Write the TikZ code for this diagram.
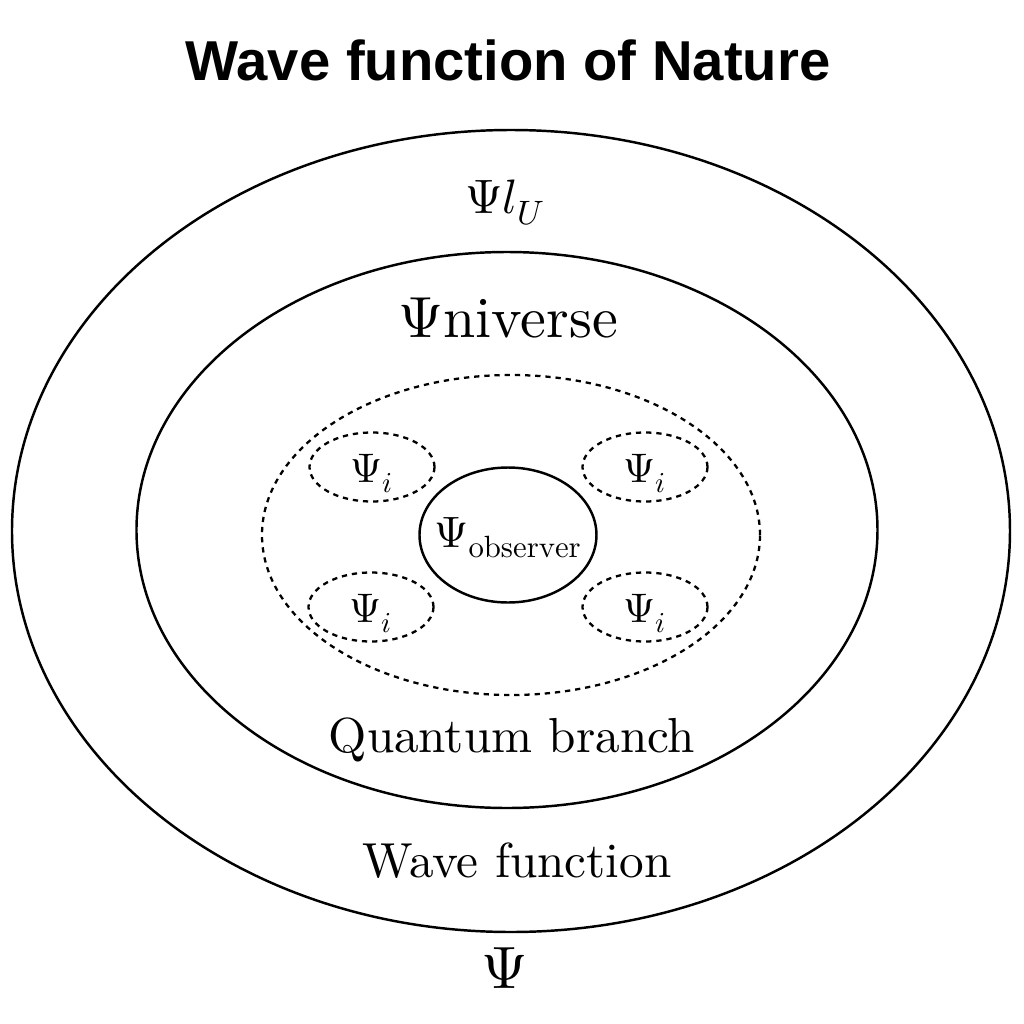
\documentclass[tikz,border=0pt]{standalone}
\usepackage{fontspec}
\usepackage{unicode-math}
\usepackage{tikz}
\usetikzlibrary{shapes.geometric,positioning}
\setmainfont{lmroman10-regular.otf}
\newfontfamily\titlefont{Liberation Sans}

\begin{document}
\begin{tikzpicture}[inner sep=0pt]
  \tikzstyle{ring}=[draw,ellipse,line width=1.4pt]
  \tikzstyle{branch}=[draw,ellipse,line width=1.3pt,dash pattern=on 3pt off 2.8pt]
  \tikzstyle{label}=[anchor=base]
  \useasboundingbox (-10.24,-10.24) rectangle (10.24,10.24);
  % rings
  \node[ring,minimum width=19.96cm,minimum height=16.04cm] (nature) at (-0.02,-0.38) {};
  \node[ring,minimum width=14.82cm,minimum height=11.12cm] (universe) at (-0.10,-0.36) {};
  \node[branch,minimum width=9.96cm,minimum height=6.40cm] (quantum) at (-0.02,-0.46) {};
  \node[ring,minimum width=3.54cm,minimum height=2.70cm] (observer) at (-0.08,-0.46) {};
  % branches
  \node[branch,minimum width=2.5cm,minimum height=1.38cm] (b_1) at (-2.80,0.90) {};
  \node[branch,minimum width=2.5cm,minimum height=1.38cm] (b_2) at (2.66,0.90) {};
  \node[branch,minimum width=2.5cm,minimum height=1.38cm] (b_3) at (-2.82,-1.90) {};
  \node[branch,minimum width=2.5cm,minimum height=1.38cm] (b_4) at (2.66,-1.90) {};
  % texts
  \node[label] (title) at (-0.08,8.64) {\fontsize{32}{36}\selectfont\titlefont\bfseries Wave function of Nature};
  \node[label] (psi_lu) at (-0.14,5.98) {\fontsize{27.5}{32}\selectfont$\Psi l_U$};
  \node[label] (psi_univ) at (-0.08,3.50) {\fontsize{33}{38}\selectfont$\Psi$niverse};
  \node[label] (psi_obs) at (-0.08,-0.70) {\fontsize{25}{30}\selectfont$\Psi_{\mathrm{observer}}$};
  \foreach \b in {b_1,b_2,b_3,b_4}
    \node[label,yshift=-0.30cm] at (\b) {\fontsize{23.5}{28}\selectfont$\Psi_i$};
  \node[label] (q_label) at (0,-4.80) {\fontsize{28}{32}\selectfont Quantum branch};
  \node[label] (w_label) at (0.10,-7.30) {\fontsize{28}{32}\selectfont Wave function};
  \node[label] (psi) at (-0.14,-9.52) {\fontsize{34}{40}\selectfont$\Psi$};
\end{tikzpicture}
\end{document}
